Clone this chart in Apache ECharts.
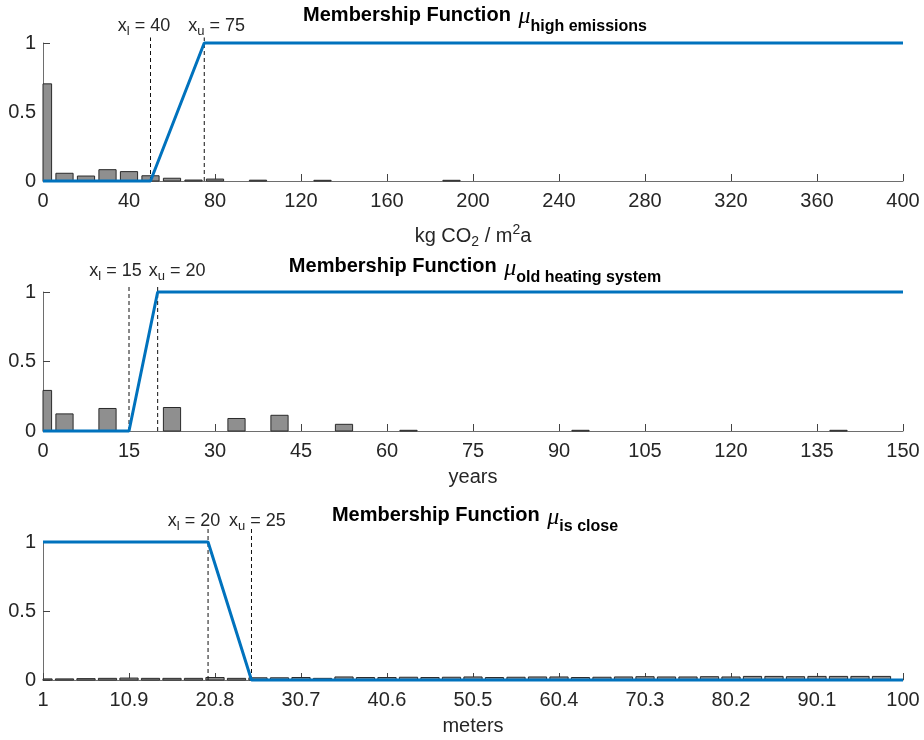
<!DOCTYPE html>
<html><head><meta charset="utf-8">
<script src="https://cdn.jsdelivr.net/npm/echarts@6/dist/echarts.min.js"></script>
<style>html,body{margin:0;padding:0;background:#fff}#c{width:924px;height:740px}</style>
</head><body><div id="c"></div>
<script>
// ---------- data ----------
// Panel 1: emissions (kg CO2 / m2a)
const emissionsBinCenters = [0, 10, 20, 30, 40, 50, 60, 70, 80, 100, 130, 190];
const emissionsShares     = [0.704, 0.056, 0.036, 0.082, 0.068, 0.038, 0.020, 0.007, 0.014, 0.006, 0.005, 0.005];
const emissionsMfX = [0, 50, 75, 400];
const emissionsMfY = [0, 0, 1, 1];
const emissionsThresholds = [50, 75];
const emissionsLabels = ['x{s|l} = 40', 'x{s|u} = 75'];

// Panel 2: heating system age (years)
const ageBinCenters = [0, 3.75, 11.25, 22.5, 33.75, 41.25, 52.5, 63.75, 93.75, 138.75];
const ageShares     = [0.292, 0.123, 0.162, 0.169, 0.090, 0.113, 0.048, 0.005, 0.005, 0.005];
const ageMfX = [0, 15, 20, 150];
const ageMfY = [0, 0, 1, 1];
const ageThresholds = [15, 20];
const ageLabels = ['x{s|l} = 15', 'x{s|u} = 20'];

// Panel 3: distance (meters)
const distBinCenters = [1, 3.475, 5.95, 8.425, 10.9, 13.375, 15.85, 18.325, 20.8, 23.275,
  25.75, 28.225, 30.7, 33.175, 35.65, 38.125, 40.6, 43.075, 45.55, 48.025,
  50.5, 52.975, 55.45, 57.925, 60.4, 62.875, 65.35, 67.825, 70.3, 72.775,
  75.25, 77.725, 80.2, 82.675, 85.15, 87.625, 90.1, 92.575, 95.05, 97.525];
const distShares = [0.008, 0.008, 0.010, 0.012, 0.014, 0.012, 0.012, 0.012, 0.018, 0.012,
  0.016, 0.016, 0.018, 0.012, 0.022, 0.018, 0.018, 0.020, 0.018, 0.020,
  0.022, 0.018, 0.020, 0.022, 0.022, 0.018, 0.020, 0.022, 0.024, 0.022,
  0.022, 0.024, 0.022, 0.026, 0.026, 0.024, 0.026, 0.026, 0.026, 0.026];
const distMfX = [1, 20, 25, 100];
const distMfY = [1, 1, 0, 0];
const distThresholds = [20, 25];
const distLabels = ['x{s|l} = 20', 'x{s|u} = 25'];

const titleSubs = ['high emissions', 'old heating system', 'is close'];

// ---------- styling ----------
const FONT = 'Liberation Sans';
const BLUE = '#0072BD';
const AXIS = '#6e6e6e';
const LABEL = '#262626';

const chart = echarts.init(document.getElementById('c'));

function xAxisCfg(gi, min, max, interval, name, nameGap, extra) {
  return Object.assign({
    type: 'value', gridIndex: gi, min, max, interval,
    name, nameLocation: 'middle', nameGap,
    nameTextStyle: {fontSize: 20, color: LABEL, fontFamily: FONT},
    axisLine: {show: true, onZero: false, lineStyle: {color: AXIS, width: 1}},
    axisTick: {show: true, inside: true, length: 7, lineStyle: {color: '#444', width: 1}},
    axisLabel: {fontSize: 20, color: LABEL, fontFamily: FONT, margin: 10, hideOverlap: false},
    splitLine: {show: false}
  }, extra || {});
}
function yAxisCfg(gi) {
  return {
    type: 'value', gridIndex: gi, min: 0, max: 1, interval: 0.5,
    axisLine: {show: true, onZero: false, lineStyle: {color: AXIS, width: 1}},
    axisTick: {show: true, inside: true, length: 7, lineStyle: {color: '#444', width: 1}},
    axisLabel: {fontSize: 20, color: LABEL, fontFamily: FONT, margin: 7},
    splitLine: {show: false}
  };
}
function histSeries(gi, centers, values, width) {
  return {
    type: 'custom', xAxisIndex: gi, yAxisIndex: gi, z: 2,
    data: centers.map((c, i) => [c, values[i]]),
    renderItem(params, api) {
      const c = api.value(0), v = api.value(1);
      const p0 = api.coord([c - width / 2, v]);
      const p1 = api.coord([c + width / 2, 0]);
      const cs = params.coordSys;
      const shape = echarts.graphic.clipRectByRect(
        {x: p0[0], y: p0[1], width: p1[0] - p0[0], height: p1[1] - p0[1]},
        {x: cs.x, y: cs.y, width: cs.width, height: cs.height});
      return shape && {type: 'rect', shape, style: {fill: '#8f8f8f', stroke: '#2a2a2a', lineWidth: 1}};
    }
  };
}
function dashSeries(gi, xs, topVal) {
  return {
    type: 'custom', xAxisIndex: gi, yAxisIndex: gi, z: 3,
    data: xs.map(x => [x]),
    renderItem(params, api) {
      const x = api.value(0);
      const a = api.coord([x, 0]);
      const b = api.coord([x, topVal]);
      return {type: 'line', shape: {x1: a[0], y1: a[1], x2: b[0], y2: b[1]},
        style: {stroke: '#111', lineWidth: 1, lineDash: [4, 3]}};
    }
  };
}
function mfSeries(gi, xs, ys) {
  return {
    type: 'line', xAxisIndex: gi, yAxisIndex: gi, z: 4, clip: false,
    data: xs.map((x, i) => [x, ys[i]]), symbol: 'none', silent: true,
    lineStyle: {color: BLUE, width: 3}
  };
}

const option = {
  animation: false,
  backgroundColor: '#fff',
  grid: [
    {left: 43, right: 21, top: 43, height: 138, outerBoundsMode: 'none'},
    {left: 43, right: 21, top: 292, height: 139, outerBoundsMode: 'none'},
    {left: 43, right: 21, top: 542, height: 138, outerBoundsMode: 'none'}
  ],
  xAxis: [
    xAxisCfg(0, 0, 400, 40, 'kg CO{sub|2} / m{sup|2}a', 42, {
      nameTextStyle: {fontSize: 20, color: LABEL, fontFamily: FONT,
        rich: {
          sub: {fontSize: 14, color: LABEL, fontFamily: FONT, padding: [12, 0, 0, 0]},
          sup: {fontSize: 14, color: LABEL, fontFamily: FONT, padding: [0, 0, 12, 0]}
        }}
    }),
    xAxisCfg(1, 0, 150, 15, 'years', 36),
    xAxisCfg(2, 1, 100, 9.9, 'meters', 36, {
      axisLabel: {fontSize: 20, color: LABEL, fontFamily: FONT, margin: 10, hideOverlap: false,
        formatter: v => String(Math.round(v * 10) / 10)}
    })
  ],
  yAxis: [yAxisCfg(0), yAxisCfg(1), yAxisCfg(2)],
  series: [
    histSeries(0, emissionsBinCenters, emissionsShares, 8),
    dashSeries(0, emissionsThresholds, 1.04),
    mfSeries(0, emissionsMfX, emissionsMfY),
    histSeries(1, ageBinCenters, ageShares, 3),
    dashSeries(1, ageThresholds, 1.05),
    mfSeries(1, ageMfX, ageMfY),
    histSeries(2, distBinCenters, distShares, 2.1),
    dashSeries(2, distThresholds, 1.1),
    mfSeries(2, distMfX, distMfY)
  ]
};
chart.setOption(option);

// ---------- titles and threshold annotations ----------
const graphics = [];
const titleY = [15, 266.5, 515.5];
const annotY = [26, 271.5, 521.5];
const thresholds = [emissionsThresholds, ageThresholds, distThresholds];
const labels = [emissionsLabels, ageLabels, distLabels];
const annotOffsets = [[-6.5, 12.5], [-13.5, 19.5], [-14, 6]];
const xMins = [0, 0, 1];
for (let gi = 0; gi < 3; gi++) {
  const left = chart.convertToPixel({gridIndex: gi}, [xMins[gi], 0])[0];
  const right = chart.convertToPixel({gridIndex: gi}, [[400, 150, 100][gi], 0])[0];
  graphics.push({
    type: 'text', x: (left + right) / 2 + 2, y: titleY[gi], z: 10,
    style: {
      text: 'Membership Function {mu|μ}{sub|' + titleSubs[gi] + '}',
      fill: '#000', fontFamily: FONT, fontSize: 20, fontWeight: 'bold',
      align: 'center', verticalAlign: 'middle',
      rich: {
        mu: {fill: '#000', fontFamily: 'Liberation Serif', fontSize: 24, fontStyle: 'italic', fontWeight: 'normal', padding: [4, 0, 0, 2]},
        sub: {fill: '#000', fontFamily: FONT, fontSize: 16, fontWeight: 'bold', padding: [23, 0, 0, 0]}
      }
    }
  });
  thresholds[gi].forEach((t, k) => {
    const px = chart.convertToPixel({gridIndex: gi}, [t, 0])[0];
    graphics.push({
      type: 'text', x: px + annotOffsets[gi][k], y: annotY[gi], z: 10,
      style: {
        text: labels[gi][k], fill: LABEL, fontFamily: FONT, fontSize: 18,
        align: 'center', verticalAlign: 'middle',
        rich: {s: {fill: LABEL, fontFamily: FONT, fontSize: 13, padding: [10, 0, 0, 0]}}
      }
    });
  });
}
chart.setOption({graphic: graphics});
</script>
</body></html>
